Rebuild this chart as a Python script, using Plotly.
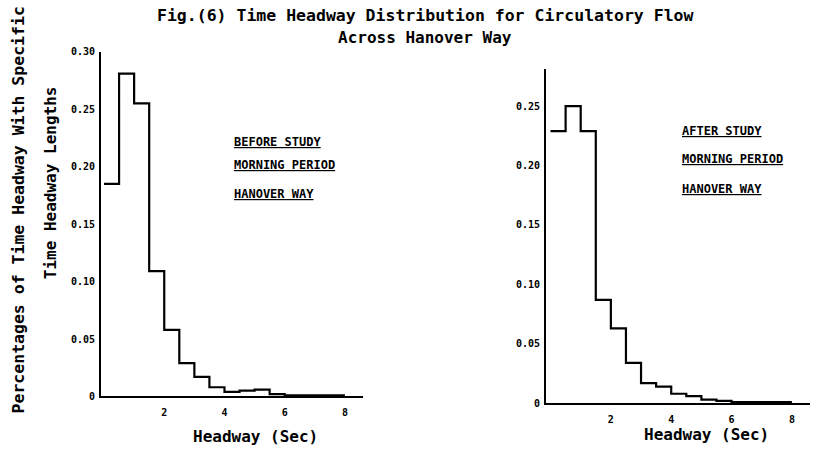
import plotly.graph_objects as go

# Bin left edges (seconds), bin width 0.5
bin_edges = [0.0, 0.5, 1.0, 1.5, 2.0, 2.5, 3.0, 3.5, 4.0, 4.5, 5.0, 5.5, 6.0, 6.5, 7.0, 7.5, 8.0]
before_vals = [0.185, 0.281, 0.255, 0.109, 0.058, 0.029, 0.017, 0.008, 0.004, 0.005, 0.006, 0.002, 0.001, 0.001, 0.001, 0.001, 0.001]
after_vals = [0.229, 0.250, 0.229, 0.087, 0.063, 0.034, 0.017, 0.014, 0.008, 0.006, 0.003, 0.002, 0.001, 0.001, 0.001, 0.001, 0.001]

x_ticks = [2, 4, 6, 8]
x_ticktext = ["2", "4", "6", "8"]
left_yticks = [0, 0.05, 0.10, 0.15, 0.20, 0.25, 0.30]
left_yticktext = ["0", "0.05", "0.10", "0.15", "0.20", "0.25", "0.30"]
right_yticks = [0, 0.05, 0.10, 0.15, 0.20, 0.25]
right_yticktext = ["0", "0.05", "0.10", "0.15", "0.20", "0.25"]

title_text = "Fig.(6) Time Headway Distribution for Circulatory Flow"
subtitle_text = "Across Hanover Way"
ytitle_outer = "Percentages of Time Headway With Specific"
ytitle_inner = "Time Headway Lengths"
xtitle = "Headway (Sec)"
left_notes = ["BEFORE STUDY", "MORNING PERIOD", "HANOVER WAY"]
right_notes = ["AFTER STUDY", "MORNING PERIOD", "HANOVER WAY"]

W, H = 820, 456
FONT = "DejaVu Sans Mono"

def px(x):
    return x / W

def py(y):
    return 1 - y / H

fig = go.Figure()
fig.add_trace(go.Scatter(x=bin_edges, y=before_vals, mode="lines", line=dict(shape="hv", color="black", width=2.2),
                         xaxis="x", yaxis="y", showlegend=False, hoverinfo="skip"))
fig.add_trace(go.Scatter(x=bin_edges, y=after_vals, mode="lines", line=dict(shape="hv", color="black", width=2.2),
                         xaxis="x2", yaxis="y2", showlegend=False, hoverinfo="skip"))

tickfont = dict(family=FONT, size=10, color="black", weight="bold")
axis_common = dict(showgrid=False, zeroline=False, showline=True, linecolor="black", linewidth=2,
                   ticks="", tickfont=tickfont)

fig.update_layout(
    width=W, height=H, margin=dict(l=0, r=0, t=0, b=0),
    paper_bgcolor="white", plot_bgcolor="white",
    xaxis=dict(domain=[px(101), px(363)], range=[-0.1, 8.6], anchor="y",
               tickvals=x_ticks, ticktext=x_ticktext, ticklabelstandoff=6, **axis_common),
    yaxis=dict(domain=[py(401), py(47)], range=[0, 0.30], anchor="x",
               tickvals=left_yticks, ticktext=left_yticktext, ticklabelstandoff=2, **axis_common),
    xaxis2=dict(domain=[px(546), px(810)], range=[-0.15, 8.6], anchor="y2",
                tickvals=x_ticks, ticktext=x_ticktext, ticklabelstandoff=6, **axis_common),
    yaxis2=dict(domain=[py(408), py(65)], range=[0, 0.281], anchor="x2",
                tickvals=right_yticks, ticktext=right_yticktext, ticklabelstandoff=2, **axis_common),
)

def ann(text, x, y, size, angle=0, xanchor="center", yanchor="middle"):
    fig.add_annotation(text=text, x=px(x), y=py(y), xref="paper", yref="paper", showarrow=False,
                       textangle=angle, xanchor=xanchor, yanchor=yanchor,
                       font=dict(family=FONT, size=size, color="black", weight="bold"))

ann(title_text, 425, 10, 16.5)
ann(subtitle_text, 425, 32, 16)
ann(ytitle_outer, 18, 210, 16.5, angle=-90)
ann(ytitle_inner, 50, 182, 16, angle=-90)
ann(xtitle, 255, 442, 16)
ann(xtitle, 706, 440, 16)

for i, t in enumerate(left_notes):
    ann("<u>" + t + "</u>", 232, [140, 163, 193][i], 12, xanchor="left")
for i, t in enumerate(right_notes):
    ann("<u>" + t + "</u>", 680, [128, 157, 188][i], 12, xanchor="left")

fig.write_html("out.html")
